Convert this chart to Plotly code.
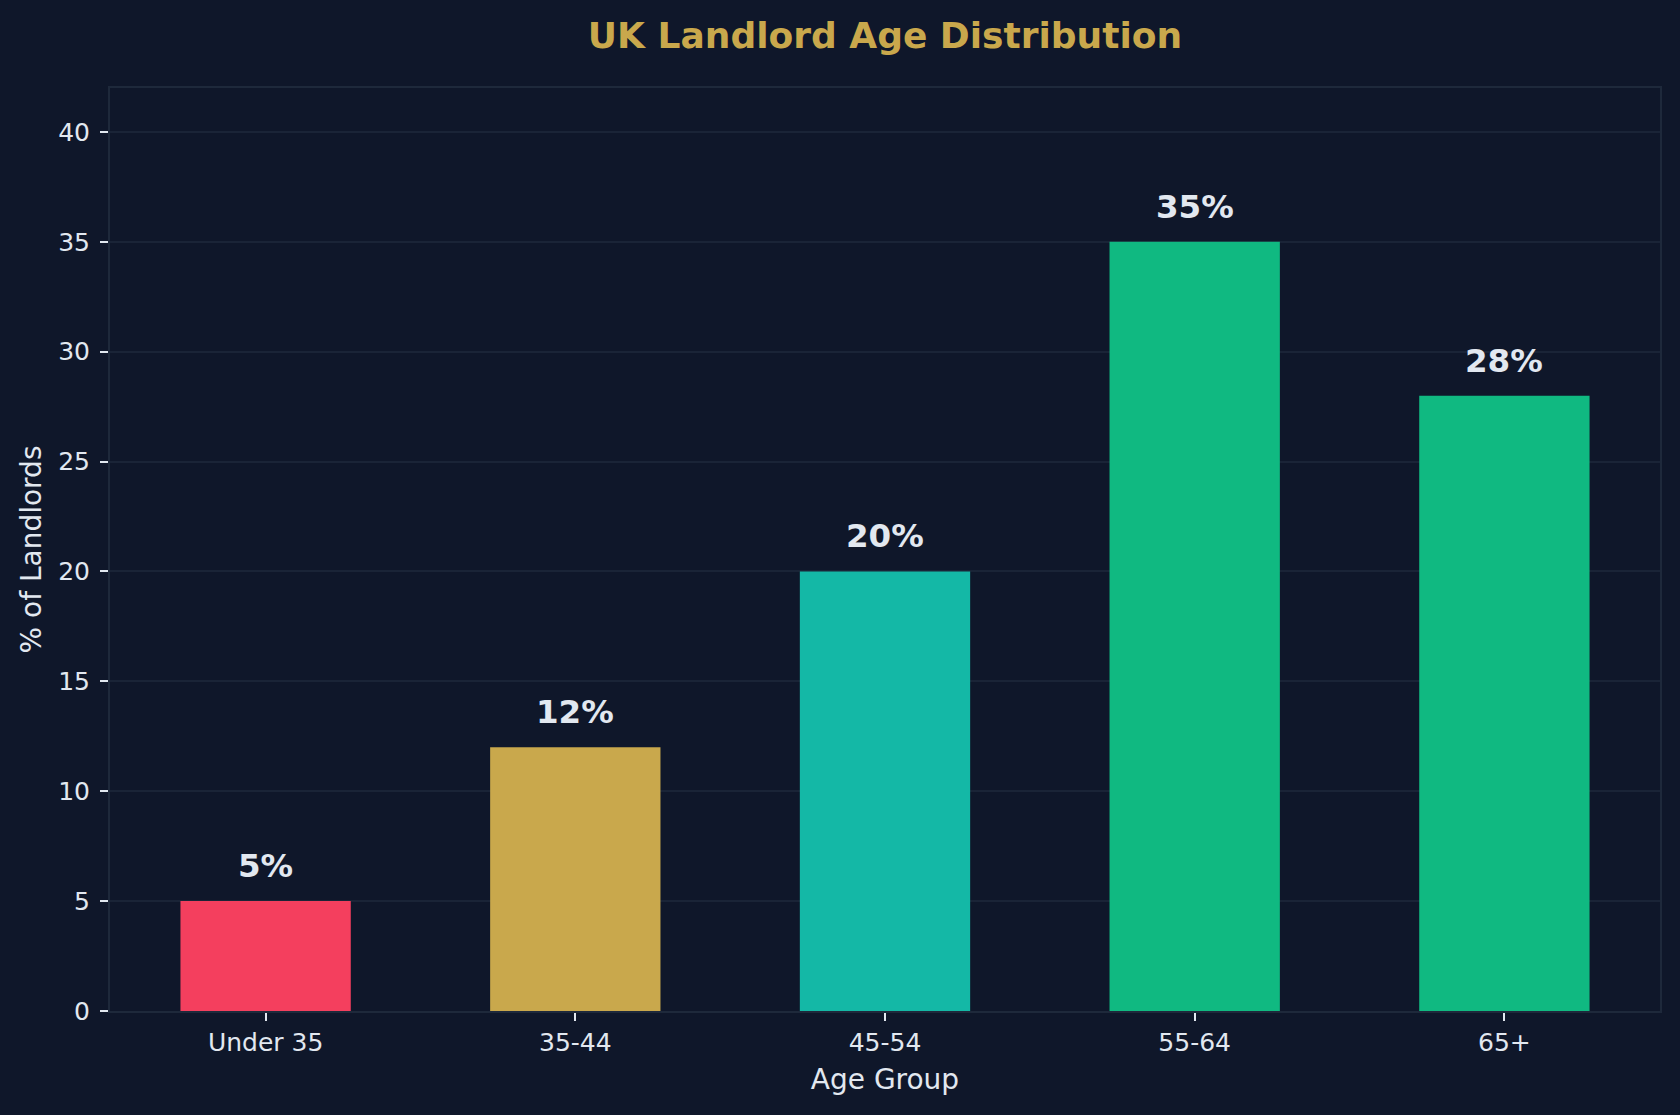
import plotly.graph_objects as go

categories = ["Under 35", "35-44", "45-54", "55-64", "65+"]
values = [5, 12, 20, 35, 28]
colors = ["#f43f5e", "#c9a84c", "#14b8a6", "#10b981", "#10b981"]
labels = [f"{v}%" for v in values]
y_ticks = [0, 5, 10, 15, 20, 25, 30, 35, 40]

BG = "#0f172a"
TXT = "#e2e8f0"
SPINE = "#1e293b"
GRID = "#1a2437"
FONT = "DejaVu Sans"

fig = go.Figure()
fig.add_trace(go.Bar(
    x=list(range(len(categories))), y=values,
    marker=dict(color=colors, line=dict(width=0)),
    width=0.55, hoverinfo="skip",
))

for i, (v, lab) in enumerate(zip(values, labels)):
    fig.add_annotation(x=i, y=v, text=f"<b>{lab}</b>", showarrow=False,
                       yanchor="bottom", yshift=14,
                       font=dict(family=FONT, size=32.5, color=TXT))

fig.update_layout(
    width=1680, height=1115,
    paper_bgcolor=BG, plot_bgcolor=BG,
    margin=dict(l=110, r=20, t=88, b=104),
    showlegend=False,
    font=dict(family=FONT, color=TXT),
    title=dict(text="<b>UK Landlord Age Distribution</b>", x=(110 + 1660) / 2 / 1680,
               xanchor="center", y=1 - 35 / 1115, yanchor="middle",
               font=dict(family=FONT, size=36, color="#c9a84c")),
    xaxis=dict(
        range=[-0.5025, 4.5025], tickmode="array",
        tickvals=list(range(len(categories))), ticktext=categories,
        showgrid=False, zeroline=False,
        showline=True, linecolor=SPINE, linewidth=2, mirror=True,
        ticks="outside", ticklen=8, tickwidth=1.5, tickcolor=TXT,
        tickfont=dict(family=FONT, size=25, color=TXT),
        title=dict(text="Age Group", standoff=13,
                   font=dict(family=FONT, size=28, color=TXT)),
        automargin=False,
    ),
    yaxis=dict(
        range=[0, 42], tickmode="array", tickvals=y_ticks,
        showgrid=True, gridcolor=GRID, gridwidth=1.5, zeroline=False,
        showline=True, linecolor=SPINE, linewidth=2, mirror=True,
        ticks="outside", ticklen=8, tickwidth=1.5, tickcolor=TXT,
        ticklabelstandoff=5,
        tickfont=dict(family=FONT, size=25, color=TXT),
        title=dict(text="% of Landlords", standoff=8,
                   font=dict(family=FONT, size=28, color=TXT)),
        automargin=False,
    ),
)

fig.write_html("out.html")
